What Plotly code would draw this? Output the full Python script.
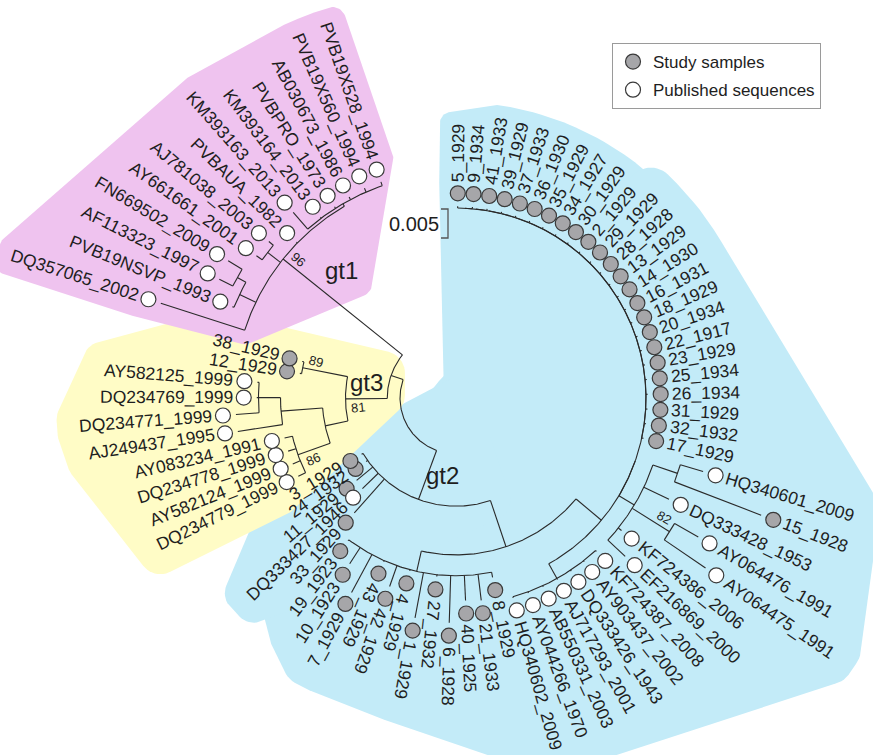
import math
import re
import plotly.graph_objects as go

# ---------------------------------------------------------------------------
# Tree data (Newick). Branch lengths are substitutions/site, internal labels
# are bootstrap support values.
# ---------------------------------------------------------------------------
GT2_MAIN_SAMPLES = ["5_1929", "9_1934", "41_1933", "39_1929", "37_1933", "36_1930",
                    "35_1929", "34_1927", "30_1929", "2_1929", "29_1929", "28_1928",
                    "13_1929", "14_1930", "16_1931", "18_1929", "20_1934", "22_1917",
                    "23_1929", "25_1934", "26_1934", "31_1929", "32_1932", "17_1929"]
GT2_MAIN_SAMPLE_BL = 0.0003

GT2_EAST = ("((HQ340601_2009:0.0041,15_1928:0.0160):0.0045,DQ333428_1953:0.0048,"
            "(AY064476_1991:0.0047,AY064475_1991:0.0086)82:0.0076,"
            "KF724386_2006:0.0007,EF216869_2000:0.0041)")
GT2_SOUTH_PUBLISHED = ("(KF724387_2008:0.0002,AY903437_2002:0.0002,DQ333426_1943:0.0002,"
                       "AJ717293_2001:0.0002,AB550331_2003:0.0002,AY044266_1970:0.0002,"
                       "HQ340602_2009:0.0002)")
GT2_SOUTH_SAMPLES = ("(8_1929:0.0009,21_1933:0.0045,40_1925:0.0043,6_1928:0.0081,"
                     "27_1932:0.0003,1_1929:0.0079,4_1929:0.0002,42_1929:0.0038,"
                     "43_1929:0.0002,7_1929:0.0074,10_1923:0.0033,19_1923:0.0002)")
GT2_BASAL = ("33_1929:0.0078,DQ333427_1946:0.0038,11_1929:0.0036,"
             "24_1932:0.0003,3_1929:0.0003")

GT3 = ("(((DQ234779_1999:0.0014,AY582124_1999:0.0014,DQ234778_1999:0.0014,"
       "AY083234_1991:0.0014)86:0.0059,(AJ249437_1995:0.0078,(DQ234771_1999:0.0040,"
       "DQ234769_1999:0.0003,AY582125_1999:0.0003):0.0038):0.0072):0.0040,"
       "(12_1929:0.0003,38_1929:0.0003)89:0.0079)81")
GT1 = ("(DQ357065_2002:0.0152,(PVB19NSVP_1993:0.0003,(AF113323_1997:0.0026,"
       "FN669502_2009:0.0028):0.0017):0.0031,(AY661661_2001:0.0012,"
       "AJ781038_2003:0.0010):0.0028,PVBAUA_1982:0.0002,(KM393163_2013:0.0038,"
       "KM393164_2013:0.0002,PVBPRO_1973:0.0003,AB030673_1986:0.0005,"
       "PVB19X560_1994:0.0007,PVB19X528_1994:0.0007):0.0005)96")

SCALE_BAR = 0.005
GROUP_NAMES = ["gt1", "gt2", "gt3"]
LEGEND_NAMES = ["Study samples", "Published sequences"]

# ---------------------------------------------------------------------------
# Drawing style / layout
# ---------------------------------------------------------------------------
W, H = 873, 755
CX, CY = 456, 398            # root centre on the canvas (px)
INNER_R = 56                 # empty hole around the root (px)
PX_PER_SUB = 5800            # px per substitution/site
START_ANGLE, STEP = 89.5, 4.42
DOT_GAP, LABEL_GAP = 13, 11
FLIP_RANGE = (98, 244)       # labels in this angular range read inward
FONT = "Liberation Sans, Arial, sans-serif"
LABEL_SIZE = 17.5
LINE_COLOR = "#2a2a2a"
TEXT_COLOR = "#1e1e1e"
STUDY_FILL = "#a6a6a9"
DOT_EDGE = "#3a3a3a"
BLUE, YELLOW, PINK = "#c3ebf8", "#fffcc6", "#efc3ef"
GROUP_LABEL_POS = {"gt1": (132, 171), "gt2": (-99.5, 79), "gt3": (170.5, 91)}
SUPPORT_SIDE = {"96": -1, "89": -1, "81": 1, "86": 1, "82": 1}
SCALE_BAR_TOP = (448, 209)

CHAR_W = {"_": 0.556, ".": 0.278, "A": 0.667, "B": 0.667, "C": 0.722, "D": 0.722,
          "E": 0.667, "F": 0.611, "H": 0.722, "J": 0.5, "K": 0.667, "M": 0.833,
          "N": 0.722, "O": 0.778, "P": 0.667, "Q": 0.778, "R": 0.722, "S": 0.667,
          "U": 0.722, "V": 0.667, "X": 0.667, "Y": 0.667, "g": 0.556, "t": 0.278}


def text_width(s, size):
    return sum(CHAR_W.get(ch, 0.556) for ch in s) * size


def ladder(names, bl):
    s = f"{names[0]}:{bl}"
    for i, n in enumerate(names[1:]):
        s = f"({s}{'' if i == 0 else ':0'},{n}:{bl})"
    return s


def parse_newick(s):
    pos = 0

    def node():
        nonlocal pos
        children = []
        if s[pos] == "(":
            pos += 1
            while True:
                children.append(node())
                if s[pos] == ",":
                    pos += 1
                    continue
                if s[pos] == ")":
                    pos += 1
                    break
        label = re.match(r"[^:,();]*", s[pos:]).group(0)
        pos += len(label)
        length = 0.0
        if pos < len(s) and s[pos] == ":":
            pos += 1
            num = re.match(r"[0-9.eE+-]+", s[pos:]).group(0)
            pos += len(num)
            length = float(num)
        return {"label": label, "length": length, "children": children}

    return node()


def leaf_names(newick):
    return [n for n in re.findall(r"([A-Za-z0-9_]+):", newick) if "_" in n]


main = ladder(GT2_MAIN_SAMPLES, GT2_MAIN_SAMPLE_BL)
gt2_core = (f"((({main}:0,{GT2_EAST}:0.0031):0,{GT2_SOUTH_PUBLISHED}:0.0029):0.0057,"
            f"{GT2_SOUTH_SAMPLES}:0.0036)")
GT2 = f"({gt2_core}:0.0084,{GT2_BASAL})"
TREE = f"({GT2}:0.0090,({GT3}:0.0072,{GT1}:0.0264):0.0022);"

root = parse_newick(TREE)

# ---------------------------------------------------------------------------
# Circular layout
# ---------------------------------------------------------------------------
leaves = []


def layout(nd, dist):
    nd["r"] = INNER_R + dist * PX_PER_SUB
    if not nd["children"]:
        nd["angle"] = START_ANGLE - len(leaves) * STEP
        leaves.append(nd)
    else:
        for c in nd["children"]:
            layout(c, dist + c["length"])
        nd["angle"] = 0.5 * (nd["children"][0]["angle"] + nd["children"][-1]["angle"])


layout(root, 0.0)
gt2_node = root["children"][0]
gt3_node = root["children"][1]["children"][0]
gt1_node = root["children"][1]["children"][1]


def polar(r, a):
    t = math.radians(a)
    return CX + r * math.cos(t), CY - r * math.sin(t)


lx, ly = [], []


def add_arc(r, a0, a1):
    n = max(2, int(abs(a1 - a0) / 0.5) + 2)
    for i in range(n):
        x, y = polar(r, a0 + (a1 - a0) * i / (n - 1))
        lx.append(x)
        ly.append(y)
    lx.append(None)
    ly.append(None)


def add_seg(r0, r1, a):
    for r in (r0, r1):
        x, y = polar(r, a)
        lx.append(x)
        ly.append(y)
    lx.append(None)
    ly.append(None)


supports = []


def draw(nd):
    if not nd["children"]:
        return
    kids = nd["children"]
    add_arc(nd["r"], kids[0]["angle"], kids[-1]["angle"])
    for c in kids:
        if c["r"] - nd["r"] > 0.3:
            add_seg(nd["r"], c["r"], c["angle"])
        draw(c)
    if nd["label"].isdigit():
        supports.append(nd)


draw(root)


def norm_angle(a):
    return (a + 180) % 360 - 180


def radial_textangle(a):
    an = a % 360
    flip = FLIP_RANGE[0] < an < FLIP_RANGE[1]
    return norm_angle(-(a + 180) if flip else -a)


# leaf dots + labels
geo = {}
annotations = []
for lf in leaves:
    name = lf["label"]
    a = lf["angle"]
    rd = lf["r"] + DOT_GAP
    dx, dy = polar(rd, a)
    w = text_width(name, LABEL_SIZE)
    rc = rd + LABEL_GAP + w / 2
    tx, ty = polar(rc, a)
    t = math.radians(a)
    u = (math.cos(t), -math.sin(t))
    nrm = (math.sin(t), math.cos(t))
    hh = LABEL_SIZE * 0.38
    corners = [(tx + su * u[0] * w / 2 + sn * nrm[0] * hh, ty + su * u[1] * w / 2 + sn * nrm[1] * hh)
               for su in (-1, 1) for sn in (-1, 1)]
    geo[name] = [(dx, dy)] + corners
    lf["dot"] = (dx, dy)
    annotations.append(dict(x=tx, y=ty, xref="x", yref="y", text=name, showarrow=False,
                            xanchor="center", yanchor="middle", textangle=radial_textangle(a),
                            font=dict(family=FONT, size=LABEL_SIZE, color=TEXT_COLOR)))

# bootstrap support values
for nd in supports:
    side = SUPPORT_SIDE.get(nd["label"], 1)
    r = nd["r"] - 12
    a = nd["angle"] + side * math.degrees(9 / r)
    x, y = polar(r, a)
    annotations.append(dict(x=x, y=y, xref="x", yref="y", text=nd["label"], showarrow=False,
                            xanchor="center", yanchor="middle", textangle=radial_textangle(a),
                            font=dict(family=FONT, size=13, color=TEXT_COLOR)))

# genotype labels
group_boxes = {}
for g in GROUP_NAMES:
    a, r = GROUP_LABEL_POS[g]
    x, y = polar(r, a)
    w = text_width(g, 24)
    group_boxes[g] = [(x - w / 2, y - 10), (x + w / 2, y - 10), (x - w / 2, y + 12), (x + w / 2, y + 12)]
    annotations.append(dict(x=x, y=y, xref="x", yref="y", text=g, showarrow=False,
                            xanchor="center", yanchor="middle",
                            font=dict(family=FONT, size=24, color=TEXT_COLOR)))

# scale bar
sb_len = SCALE_BAR * PX_PER_SUB
sx, sy = SCALE_BAR_TOP
scale_x = [sx - 7, sx, sx, sx - 7]
scale_y = [sy, sy, sy + sb_len, sy + sb_len]
annotations.append(dict(x=sx - 7, y=sy + sb_len / 2, xref="x", yref="y", text=f"{SCALE_BAR}",
                        showarrow=False, xanchor="right", yanchor="middle",
                        font=dict(family=FONT, size=20, color=TEXT_COLOR)))


# ---------------------------------------------------------------------------
# Shaded genotype regions: rounded convex hulls around each clade's marks
# ---------------------------------------------------------------------------
def hull(points):
    pts = sorted(set(points))

    def cross(o, a, b):
        return (a[0] - o[0]) * (b[1] - o[1]) - (a[1] - o[1]) * (b[0] - o[0])

    lower, upper = [], []
    for p in pts:
        while len(lower) >= 2 and cross(lower[-2], lower[-1], p) <= 0:
            lower.pop()
        lower.append(p)
    for p in reversed(pts):
        while len(upper) >= 2 and cross(upper[-2], upper[-1], p) <= 0:
            upper.pop()
        upper.append(p)
    return lower[:-1] + upper[:-1]


def blob(points, pad):
    grown = []
    for (x, y) in points:
        for k in range(48):
            t = 2 * math.pi * k / 48
            grown.append((round(x + pad * math.cos(t), 2), round(y + pad * math.sin(t), 2)))
    h = hull(grown)
    return [p[0] for p in h] + [h[0][0]], [p[1] for p in h] + [h[0][1]]


def pts_for(names):
    out = []
    for n in names:
        out += geo[n]
    return out


def node_arc_pts(nd):
    kids = nd["children"]
    return [polar(nd["r"], kids[0]["angle"]), polar(nd["r"], kids[-1]["angle"]),
            polar(nd["r"], nd["angle"])]


centre = [(CX, CY)]
blue_top = pts_for(GT2_MAIN_SAMPLES) + centre
blue_east = (pts_for(GT2_MAIN_SAMPLES[10:]) + pts_for(leaf_names(GT2_EAST))
             + pts_for(leaf_names(GT2_SOUTH_PUBLISHED)) + pts_for(leaf_names(GT2_SOUTH_SAMPLES))
             + centre)
blue_west = pts_for(leaf_names(GT2_BASAL)) + node_arc_pts(gt2_node) + group_boxes["gt2"] + centre
yellow = pts_for(leaf_names(GT3)) + node_arc_pts(gt3_node) + group_boxes["gt3"]
pink = pts_for(leaf_names(GT1)) + node_arc_pts(gt1_node) + group_boxes["gt1"]

regions = [(blue_top, 12, BLUE), (blue_east, 24, BLUE), (blue_west, 20, BLUE),
           (yellow, 22, YELLOW), (pink, 14, PINK)]

fig = go.Figure()
for pts, pad, col in regions:
    bx, by = blob(pts, pad)
    fig.add_trace(go.Scatter(x=bx, y=by, mode="lines", fill="toself", fillcolor=col,
                             line=dict(width=0, color=col), hoverinfo="skip", showlegend=False))

fig.add_trace(go.Scatter(x=lx, y=ly, mode="lines", line=dict(color=LINE_COLOR, width=1.1),
                         hoverinfo="skip", showlegend=False))
fig.add_trace(go.Scatter(x=scale_x, y=scale_y, mode="lines",
                         line=dict(color="#555555", width=1.3), hoverinfo="skip", showlegend=False))

study = [lf for lf in leaves if lf["label"][0].isdigit()]
published = [lf for lf in leaves if not lf["label"][0].isdigit()]
for grp, fill, name in ((study, STUDY_FILL, LEGEND_NAMES[0]), (published, "#ffffff", LEGEND_NAMES[1])):
    fig.add_trace(go.Scatter(
        x=[lf["dot"][0] for lf in grp], y=[lf["dot"][1] for lf in grp],
        mode="markers", name=name, legendgroup=name, text=[lf["label"] for lf in grp],
        hoverinfo="text",
        marker=dict(size=15, color=fill, line=dict(color=DOT_EDGE, width=1.2))))

fig.update_layout(
    width=W, height=H, autosize=False,
    margin=dict(l=0, r=0, t=0, b=0),
    paper_bgcolor="white", plot_bgcolor="white",
    xaxis=dict(range=[0, W], visible=False, fixedrange=True),
    yaxis=dict(range=[H, 0], visible=False, fixedrange=True),
    annotations=annotations,
    legend=dict(x=612 / W, y=1 - 43 / H, xanchor="left", yanchor="top",
                bgcolor="white", bordercolor="#9a9a9a", borderwidth=1,
                tracegroupgap=3,
                font=dict(family=FONT, size=17, color=TEXT_COLOR)),
)

fig.write_html("out.html")
